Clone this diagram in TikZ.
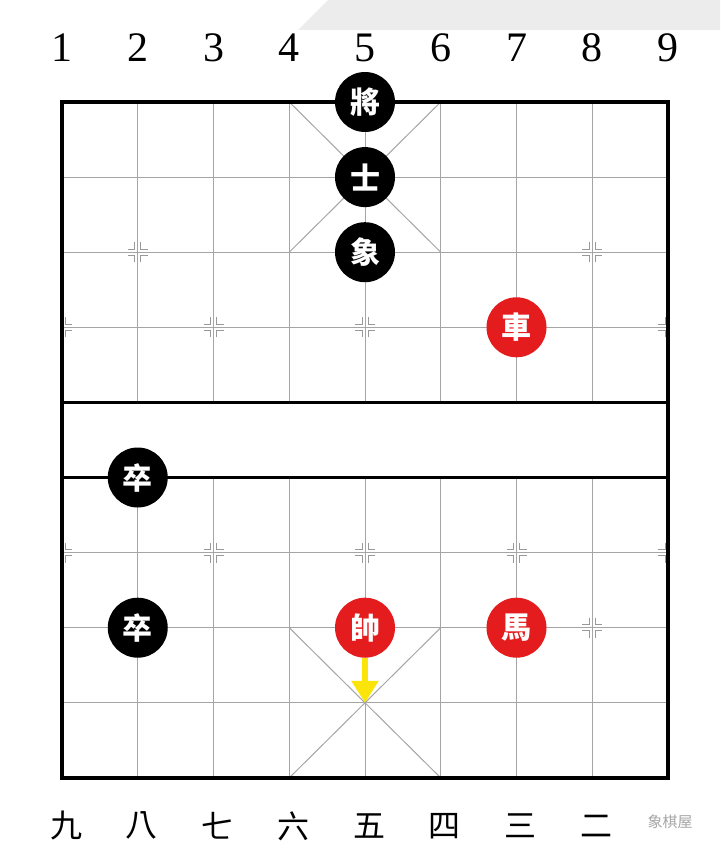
\documentclass[tikz,border=0pt]{standalone}
\usepackage{fontspec}
\usetikzlibrary{arrows.meta,calc}
\setmainfont{Liberation Serif}
\newfontfamily\cjk{Noto Sans CJK TC}
\definecolor{piecered}{RGB}{228,28,30}
\definecolor{gridgray}{RGB}{165,165,165}
\definecolor{arrowyellow}{RGB}{250,228,10}
\definecolor{bgtop}{RGB}{236,236,236}
\tikzset{
  thinline/.style={draw=gridgray, line width=1pt},
  thickline/.style={draw=black, line width=3.5pt},
  piece/.style={circle, minimum size=60pt, inner sep=0pt, text=white,
    font=\cjk\bfseries\fontsize{30}{30}\selectfont},
  blackpiece/.style={piece, fill=black},
  redpiece/.style={piece, fill=piecered},
  topnum/.style={font=\fontsize{42}{42}\selectfont, inner sep=0pt},
  botnum/.style={font=\cjk\fontsize{32}{32}\selectfont, inner sep=0pt},
  markline/.style={draw=gray!80, line width=1pt},
  moveArrow/.style={draw=arrowyellow, line width=6pt,
    -{Triangle[width=26pt,length=22pt]}},
  mkR/.pic={\draw[markline] (3,-10)--(3,-3)--(10,-3) (3,10)--(3,3)--(10,3);},
  mkL/.pic={\draw[markline] (-3,-10)--(-3,-3)--(-10,-3) (-3,10)--(-3,3)--(-10,3);},
}
\begin{document}
\begin{tikzpicture}[x=1pt,y=-1pt]
\useasboundingbox (0,0) rectangle (720,853);
\fill[white] (0,0) rectangle (720,853);
\fill[bgtop] (298,30) -- (328,0) -- (720,0) -- (720,30) -- cycle;
% grid coordinates
\foreach \i in {1,...,9}
  \foreach \j in {0,...,9}
    \coordinate (p\i-\j) at ({62+(\i-1)*75.75},{102+\j*75.1});
% thin lines
\foreach \j in {1,2,3,6,7,8}
  \draw[thinline] (p1-\j) -- (p9-\j);
\foreach \i in {2,...,8} {
  \draw[thinline] (p\i-0) -- (p\i-4);
  \draw[thinline] (p\i-5) -- (p\i-9);
}
% palaces
\draw[thinline] (p4-0) -- (p6-2) (p6-0) -- (p4-2);
\draw[thinline] (p4-7) -- (p6-9) (p6-7) -- (p4-9);
% markers
\foreach \i/\j in {2/2,8/2,3/3,5/3,7/3,3/6,5/6,7/6,2/7,8/7} {
  \pic at (p\i-\j) {mkR};
  \pic at (p\i-\j) {mkL};
}
\foreach \j in {3,6} {
  \pic at (p1-\j) {mkR};
  \pic at (p9-\j) {mkL};
}
% thick lines
\draw[thickline, line width=4pt] (p1-0) rectangle (p9-9);
\draw[thickline] (p1-4) -- (p9-4);
\draw[thickline] (p1-5) -- (p9-5);
% pieces
\node[blackpiece] (jiang) at (p5-0) {將};
\node[blackpiece] (shi) at (p5-1) {士};
\node[blackpiece] (xiang) at (p5-2) {象};
\node[redpiece] (che) at (p7-3) {車};
\node[blackpiece] (zuA) at (p2-5) {卒};
\node[blackpiece] (zuB) at (p2-7) {卒};
\node[redpiece] (shuai) at (p5-7) {帥};
\node[redpiece] (ma) at (p7-7) {馬};
% arrow
\draw[moveArrow] (shuai.south) -- (p5-8);
% top numbers
\foreach \i in {1,...,9}
  \node[topnum] (top\i) at ($(p\i-0)+(0,-54)$) {\i};
% bottom numerals
\foreach \i/\t in {1/九,2/八,3/七,4/六,5/五,6/四,7/三,8/二}
  \node[botnum] (bot\i) at ($(p\i-9)+(4,48)$) {\t};
\node[font=\cjk\fontsize{15}{15}\selectfont, text=gray!70, inner sep=0pt] (wm) at (670,822) {象棋屋};
\end{tikzpicture}
\end{document}
